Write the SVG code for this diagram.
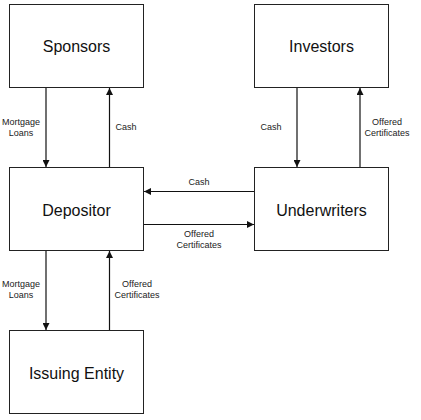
<svg xmlns="http://www.w3.org/2000/svg" width="421" height="420" viewBox="0 0 421 420">
<style>
.box{fill:#fff;stroke:#222;stroke-width:1}
.t{font-family:"Liberation Sans",Arial,sans-serif;font-size:16px;fill:#111;text-anchor:middle}
.l{font-family:"Liberation Sans",Arial,sans-serif;font-size:9px;fill:#222;text-anchor:middle}
.c{stroke:#111;stroke-width:1.2;fill:none;marker-end:url(#ah)}
</style>
<defs>
<marker id="ah" viewBox="0 0 10 10" refX="10" refY="5" markerWidth="7" markerHeight="7" markerUnits="userSpaceOnUse" orient="auto">
<path d="M0,0 L10,5 L0,10 z" fill="#111"/>
</marker>
</defs>
<rect width="421" height="420" fill="#fff"/>
<g id="sponsors"><rect class="box" x="9.5" y="4.5" width="134" height="83"/><text class="t" x="76.5" y="52">Sponsors</text></g>
<g id="investors"><rect class="box" x="254.5" y="4.5" width="134" height="83"/><text class="t" x="321.5" y="52">Investors</text></g>
<g id="depositor"><rect class="box" x="9.5" y="167.5" width="134" height="83"/><text class="t" x="76.5" y="215.5">Depositor</text></g>
<g id="underwriters"><rect class="box" x="254.5" y="167.5" width="134" height="83"/><text class="t" x="321.5" y="215.5">Underwriters</text></g>
<g id="issuing"><rect class="box" x="9.5" y="330.5" width="134" height="83"/><text class="t" x="76.5" y="379">Issuing Entity</text></g>
<g id="connectors">
<line class="c" x1="46" y1="88" x2="46" y2="167"/>
<line class="c" x1="109.5" y1="167" x2="109.5" y2="88"/>
<line class="c" x1="297" y1="88" x2="297" y2="167"/>
<line class="c" x1="360" y1="167" x2="360" y2="88"/>
<line class="c" x1="254" y1="191.5" x2="144" y2="191.5"/>
<line class="c" x1="144" y1="224.5" x2="254" y2="224.5"/>
<line class="c" x1="46" y1="251" x2="46" y2="330"/>
<line class="c" x1="109.5" y1="330" x2="109.5" y2="251"/>
</g>
<g id="labels">
<text class="l" x="21" y="125">Mortgage</text><text class="l" x="21" y="136">Loans</text>
<text class="l" x="126" y="130">Cash</text>
<text class="l" x="271" y="130">Cash</text>
<text class="l" x="387" y="125">Offered</text><text class="l" x="387" y="136">Certificates</text>
<text class="l" x="199" y="184.5">Cash</text>
<text class="l" x="199" y="236.5">Offered</text><text class="l" x="199" y="247.5">Certificates</text>
<text class="l" x="21" y="287">Mortgage</text><text class="l" x="21" y="298">Loans</text>
<text class="l" x="137" y="287">Offered</text><text class="l" x="137" y="298">Certificates</text>
</g>
</svg>
